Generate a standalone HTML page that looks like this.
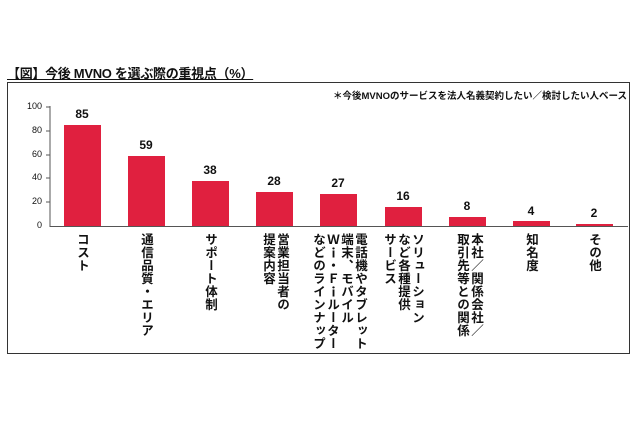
<!DOCTYPE html>
<html><head><meta charset="utf-8"><style>
body{margin:0;width:640px;height:426px;background:#fff;position:relative;overflow:hidden;font-family:"Liberation Sans","Noto Sans CJK JP",sans-serif;color:#111}
.t{position:absolute;left:7px;top:63px;font-size:13px;font-weight:bold;text-decoration:underline;letter-spacing:-0.3px}
.box{position:absolute;left:7px;top:82px;width:623px;height:272px;border:1.5px solid #333;box-sizing:border-box}
.note{position:absolute;left:333px;top:88px;font-size:9.5px;font-weight:bold;white-space:nowrap;letter-spacing:0px}
.yl{position:absolute;width:22px;text-align:right;font-size:9px;left:20px}
.bar{position:absolute;width:37px;background:#e0203f}
.v{position:absolute;font-size:12px;font-weight:bold;width:40px;text-align:center}
.lab{position:absolute;top:233px;writing-mode:vertical-rl;font-size:12.5px;font-weight:bold;line-height:14px;letter-spacing:0.5px;white-space:nowrap}
</style></head><body>
<div class="t">【図】今後 MVNO を選ぶ際の重視点（%）</div>
<div class="box"></div>
<div class="note">＊今後MVNOのサービスを法人名義契約したい／検討したい人ベース</div>
<svg style="position:absolute;left:0;top:0" width="640" height="426">
<line x1="50" y1="106" x2="50" y2="227" stroke="#555"/>
<line x1="50" y1="226.5" x2="628" y2="226.5" stroke="#555"/>
<g stroke="#555"><line x1="46" y1="107" x2="50" y2="107"/><line x1="46" y1="131" x2="50" y2="131"/><line x1="46" y1="155" x2="50" y2="155"/><line x1="46" y1="178" x2="50" y2="178"/><line x1="46" y1="202" x2="50" y2="202"/></g>
</svg>
<div class="yl" style="top:101px">100</div><div class="yl" style="top:125px">80</div><div class="yl" style="top:149px">60</div><div class="yl" style="top:172px">40</div><div class="yl" style="top:196px">20</div><div class="yl" style="top:220px">0</div>
<div class="bar" style="left:64px;top:125px;height:101px"></div><div class="v" style="left:62px;top:107px">85</div>
<div class="bar" style="left:128px;top:156px;height:70px"></div><div class="v" style="left:126px;top:138px">59</div>
<div class="bar" style="left:192px;top:181px;height:45px"></div><div class="v" style="left:190px;top:163px">38</div>
<div class="bar" style="left:256px;top:192px;height:34px"></div><div class="v" style="left:254px;top:174px">28</div>
<div class="bar" style="left:320px;top:194px;height:32px"></div><div class="v" style="left:318px;top:176px">27</div>
<div class="bar" style="left:385px;top:207px;height:19px"></div><div class="v" style="left:383px;top:189px">16</div>
<div class="bar" style="left:449px;top:217px;height:9px"></div><div class="v" style="left:447px;top:199px">8</div>
<div class="bar" style="left:513px;top:221px;height:5px"></div><div class="v" style="left:511px;top:204px">4</div>
<div class="bar" style="left:576px;top:224px;height:2px"></div><div class="v" style="left:574px;top:206px">2</div>
<div class="lab" style="left:75px">コスト</div>
<div class="lab" style="left:139px">通信品質・エリア</div>
<div class="lab" style="left:203px">サポート体制</div>
<div class="lab" style="left:261px">営業担当者の<br>提案内容</div>
<div class="lab" style="left:311px">電話機やタブレット<br>端末、モバイル<br>Ｗｉ・Ｆｉルーター<br>などのラインナップ</div>
<div class="lab" style="left:382px">ソリューション<br>など各種提供<br>サービス</div>
<div class="lab" style="left:455px">本社／関係会社／<br>取引先等との関係</div>
<div class="lab" style="left:524px">知名度</div>
<div class="lab" style="left:587px">その他</div>
</body></html>
